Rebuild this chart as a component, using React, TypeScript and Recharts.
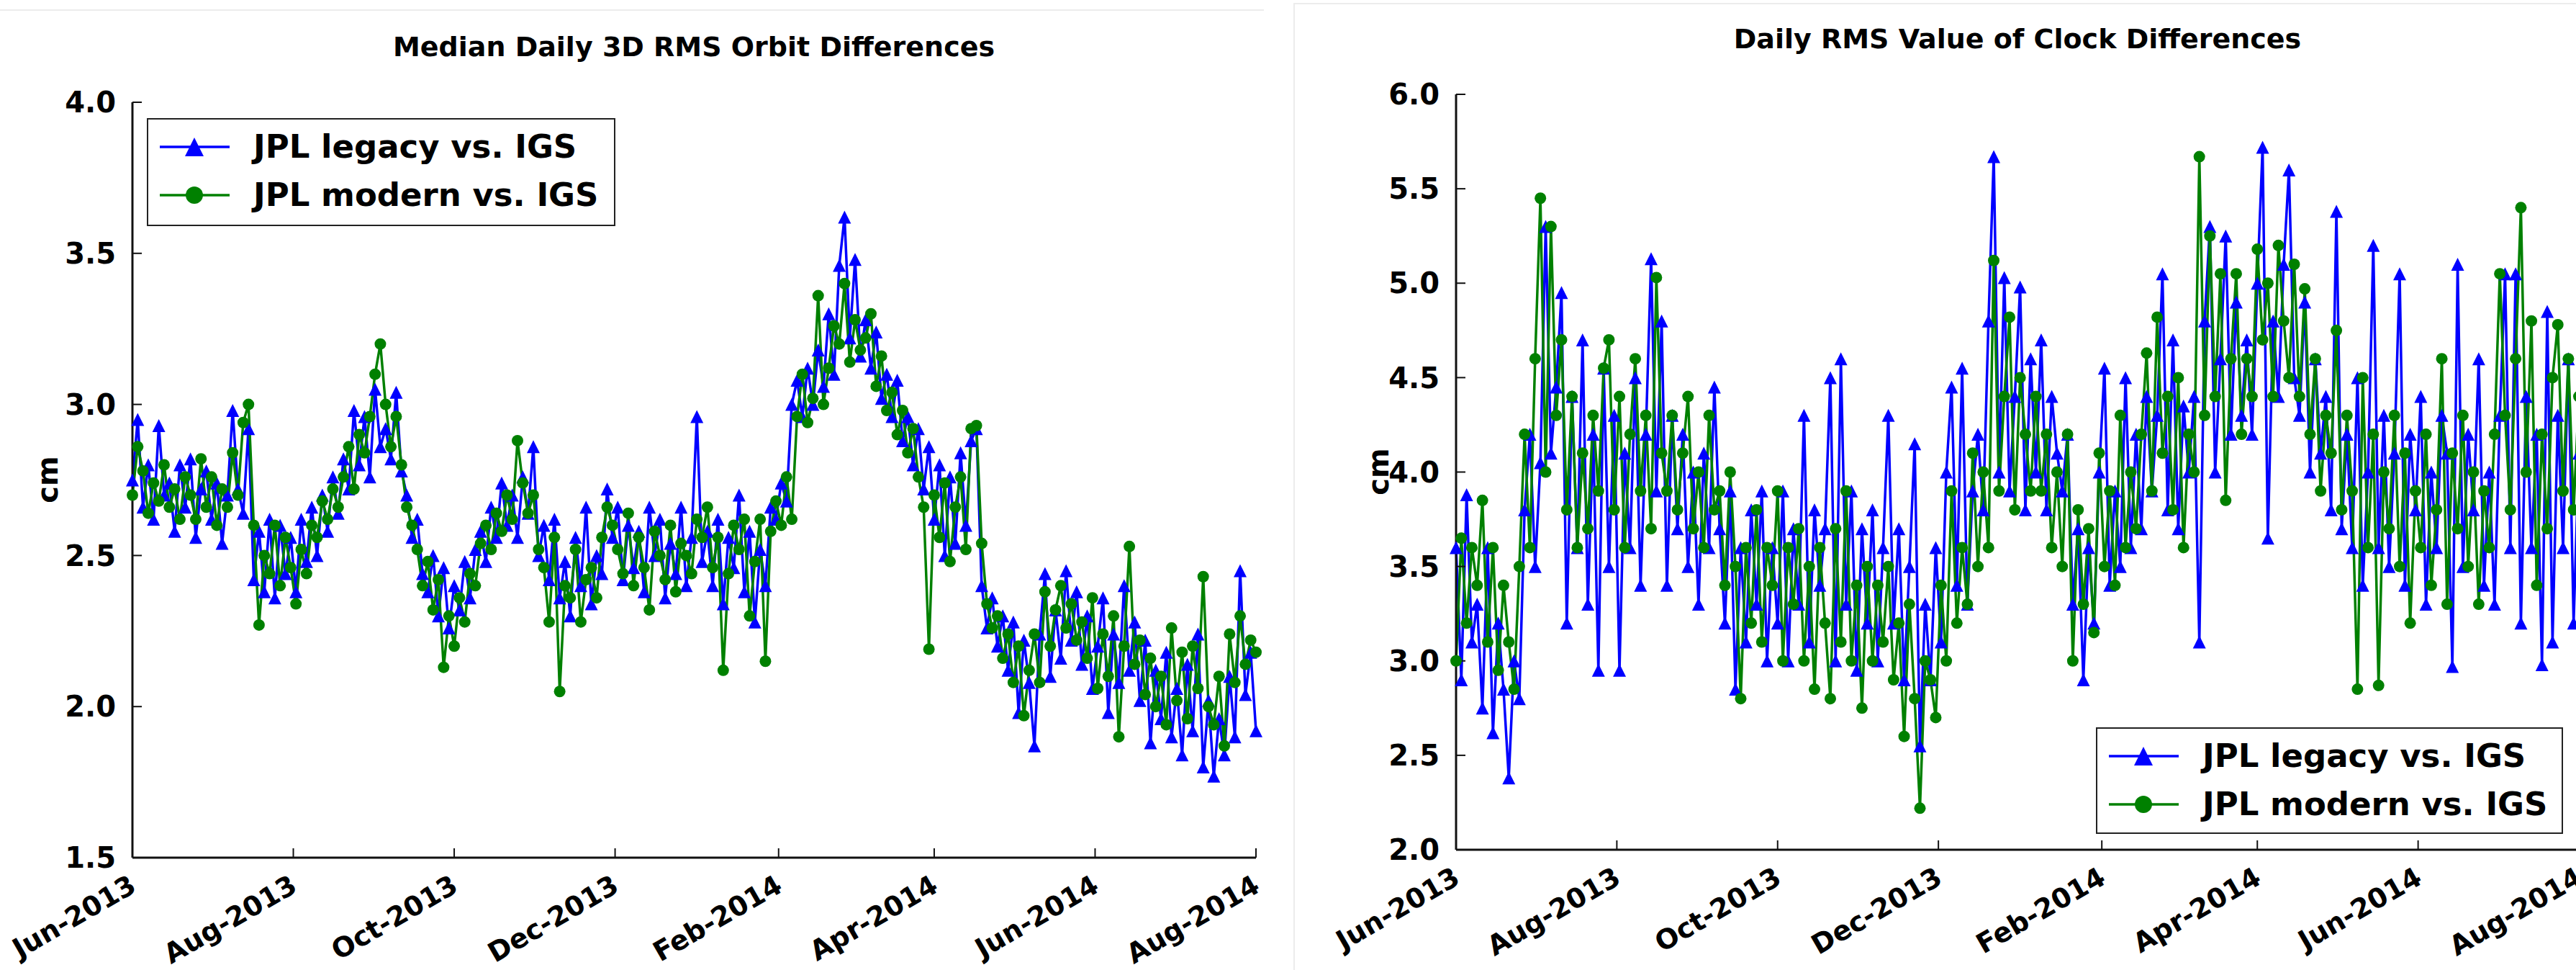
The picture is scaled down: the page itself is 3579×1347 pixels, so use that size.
import React from 'react'
import { LineChart, Line, XAxis, YAxis, Legend } from 'recharts'

const FONT = '"DejaVu Sans", Verdana, sans-serif'

// x axis: days since 2013-06-01, ticks on the first of every other month
const monthTicks = [0, 61, 122, 183, 245, 304, 365, 426]
const monthLabels = ['Jun-2013', 'Aug-2013', 'Oct-2013', 'Dec-2013', 'Feb-2014', 'Apr-2014', 'Jun-2014', 'Aug-2014']

const orbitTicks = [1.5, 2.0, 2.5, 3.0, 3.5, 4.0]
const clockTicks = [2.0, 2.5, 3.0, 3.5, 4.0, 4.5, 5.0, 5.5, 6.0]

// values, one every 2 days from 2013-06-01 (cm)
const orbitLegacy = [
  2.75, 2.95, 2.66, 2.80, 2.62, 2.93, 2.70, 2.74, 2.58, 2.80,
  2.66, 2.82, 2.56, 2.72, 2.78, 2.62, 2.74, 2.54, 2.70, 2.98,
  2.72, 2.64, 2.92, 2.42, 2.58, 2.38, 2.62, 2.36, 2.60, 2.44,
  2.56, 2.38, 2.62, 2.48, 2.66, 2.50, 2.70, 2.58, 2.76, 2.64,
  2.82, 2.72, 2.98, 2.80, 2.96, 2.76, 3.05, 2.86, 2.92, 2.82,
  3.04, 2.78, 2.70, 2.56, 2.62, 2.44, 2.38, 2.50, 2.30, 2.46,
  2.26, 2.40, 2.32, 2.48, 2.36, 2.52, 2.58, 2.48, 2.66, 2.56,
  2.74, 2.60, 2.70, 2.56, 2.76, 2.64, 2.86, 2.50, 2.60, 2.42,
  2.62, 2.36, 2.48, 2.30, 2.56, 2.40, 2.66, 2.34, 2.50, 2.44,
  2.72, 2.56, 2.66, 2.42, 2.60, 2.46, 2.58, 2.38, 2.66, 2.50,
  2.62, 2.36, 2.54, 2.44, 2.66, 2.40, 2.56, 2.96, 2.48, 2.58,
  2.40, 2.62, 2.34, 2.56, 2.46, 2.70, 2.38, 2.58, 2.28, 2.52,
  2.40, 2.66, 2.62, 2.74, 2.68, 3.00, 3.08, 2.96, 3.12, 3.00,
  3.18, 3.06, 3.30, 3.10, 3.46, 3.62, 3.22, 3.48, 3.16, 3.28,
  3.12, 3.24, 3.02, 3.10, 2.96, 3.08, 2.88, 2.96, 2.80, 2.92,
  2.72, 2.86, 2.62, 2.80, 2.50, 2.76, 2.54, 2.84, 2.60, 2.88,
  2.92, 2.40, 2.26, 2.36, 2.20, 2.30, 2.12, 2.28, 1.98, 2.22,
  2.08, 1.87, 2.24, 2.44, 2.10, 2.32, 2.16, 2.45, 2.22, 2.38,
  2.14, 2.30, 2.06, 2.20, 2.36, 1.98, 2.24, 2.08, 2.40, 2.12,
  2.28, 2.02, 2.22, 1.88, 2.12, 1.96, 2.18, 1.90, 2.06, 1.84,
  2.14, 1.92, 2.24, 1.80, 2.02, 1.77, 1.96, 1.84, 2.10, 1.90,
  2.45, 2.04, 2.18, 1.92,
]

const orbitModern = [
  2.70, 2.86, 2.78, 2.64, 2.74, 2.68, 2.80, 2.66, 2.72, 2.62,
  2.76, 2.70, 2.62, 2.82, 2.66, 2.76, 2.60, 2.72, 2.66, 2.84,
  2.70, 2.94, 3.00, 2.60, 2.27, 2.50, 2.44, 2.60, 2.40, 2.56,
  2.46, 2.34, 2.52, 2.44, 2.60, 2.56, 2.68, 2.62, 2.72, 2.66,
  2.76, 2.86, 2.72, 2.90, 2.84, 2.96, 3.10, 3.20, 3.00, 2.86,
  2.96, 2.80, 2.66, 2.60, 2.52, 2.40, 2.48, 2.32, 2.42, 2.13,
  2.30, 2.20, 2.36, 2.28, 2.44, 2.40, 2.54, 2.60, 2.52, 2.64,
  2.58, 2.70, 2.62, 2.88, 2.74, 2.64, 2.70, 2.52, 2.46, 2.28,
  2.56, 2.05, 2.40, 2.36, 2.52, 2.28, 2.42, 2.46, 2.36, 2.56,
  2.66, 2.60, 2.52, 2.44, 2.64, 2.40, 2.56, 2.46, 2.32, 2.58,
  2.50, 2.42, 2.60, 2.38, 2.54, 2.50, 2.44, 2.62, 2.56, 2.66,
  2.46, 2.56, 2.12, 2.44, 2.60, 2.52, 2.62, 2.30, 2.48, 2.62,
  2.15, 2.58, 2.68, 2.60, 2.76, 2.62, 2.96, 3.10, 2.94, 3.02,
  3.36, 3.00, 3.12, 3.26, 3.20, 3.40, 3.14, 3.28, 3.18, 3.22,
  3.30, 3.06, 3.16, 2.98, 3.04, 2.90, 2.98, 2.84, 2.92, 2.76,
  2.66, 2.19, 2.70, 2.56, 2.74, 2.48, 2.66, 2.76, 2.52, 2.92,
  2.93, 2.54, 2.34, 2.26, 2.30, 2.16, 2.24, 2.08, 2.20, 1.97,
  2.12, 2.24, 2.08, 2.38, 2.20, 2.32, 2.40, 2.26, 2.34, 2.22,
  2.28, 2.16, 2.36, 2.06, 2.24, 2.10, 2.30, 1.90, 2.20, 2.53,
  2.14, 2.22, 2.04, 2.16, 2.00, 2.10, 1.94, 2.26, 2.02, 2.18,
  1.96, 2.20, 2.06, 2.43, 2.00, 1.94, 2.10, 1.87, 2.24, 2.08,
  2.30, 2.14, 2.22, 2.18,
]

const clockLegacy = [
  3.60, 2.90, 3.88, 3.10, 3.30, 2.75, 3.60, 2.62, 3.20, 2.85,
  2.38, 3.00, 2.80, 3.80, 4.20, 3.50, 4.05, 5.30, 4.10, 4.45,
  4.95, 3.20, 4.40, 3.60, 4.70, 3.30, 4.20, 2.95, 4.55, 3.50,
  4.30, 2.95, 4.10, 3.60, 4.50, 3.40, 4.20, 5.13, 3.90, 4.80,
  3.40, 4.30, 3.70, 4.20, 3.50, 4.00, 3.30, 4.10, 3.60, 4.45,
  3.70, 3.20, 3.90, 2.85, 3.60, 3.10, 3.80, 3.30, 3.90, 3.00,
  3.60, 3.20, 3.90, 3.00, 3.70, 3.30, 4.30, 3.10, 3.80, 3.40,
  3.70, 4.50, 3.00, 4.60, 3.30, 3.90, 2.95, 3.70, 3.20, 3.80,
  3.00, 3.60, 4.30, 3.20, 3.70, 2.90, 3.50, 4.15, 2.55, 3.30,
  2.90, 3.60, 3.10, 4.00, 4.45, 3.40, 4.55, 3.30, 3.90, 4.20,
  3.80, 4.80, 5.67, 4.00, 5.03, 3.90, 4.40, 4.98, 3.80, 4.60,
  4.00, 4.70, 3.80, 4.40, 4.10, 3.90, 4.20, 3.30, 3.70, 2.90,
  3.60, 3.20, 4.00, 4.55, 3.40, 3.90, 3.50, 4.50, 3.60, 4.20,
  3.70, 4.40, 3.90, 4.30, 5.05, 3.80, 4.70, 3.70, 4.35, 4.00,
  4.40, 3.10, 4.80, 5.30, 4.00, 4.60, 5.25, 4.20, 4.90, 4.30,
  4.70, 4.20, 5.00, 5.72, 3.65, 4.80, 4.40, 5.10, 5.60, 4.50,
  4.30, 4.90, 4.00, 4.60, 4.10, 4.40, 3.80, 5.38, 3.70, 4.20,
  3.60, 4.50, 3.40, 4.00, 5.20, 3.60, 4.30, 3.50, 4.10, 5.05,
  3.40, 4.20, 3.80, 4.40, 3.30, 4.00, 3.60, 4.30, 4.10, 2.97,
  5.10, 3.50, 4.20, 3.80, 4.60, 3.40, 4.00, 3.30, 4.30, 5.05,
  3.60, 5.05, 3.20, 4.40, 3.60, 4.20, 2.98, 4.85, 3.10, 4.30,
  3.60, 4.60, 3.20, 4.10,
]

const clockModern = [
  3.00, 3.65, 3.20, 3.60, 3.40, 3.85, 3.10, 3.60, 2.95, 3.40,
  3.10, 2.85, 3.50, 4.20, 3.60, 4.60, 5.45, 4.00, 5.30, 4.30,
  4.70, 3.80, 4.40, 3.60, 4.10, 3.70, 4.30, 3.90, 4.55, 4.70,
  3.80, 4.40, 3.60, 4.20, 4.60, 3.90, 4.30, 3.70, 5.03, 4.10,
  3.90, 4.30, 3.80, 4.10, 4.40, 3.70, 4.00, 3.60, 4.30, 3.80,
  3.90, 3.40, 4.00, 3.50, 2.80, 3.60, 3.20, 3.80, 3.10, 3.60,
  3.40, 3.90, 3.00, 3.60, 3.30, 3.70, 3.00, 3.50, 2.85, 3.60,
  3.20, 2.80, 3.70, 3.10, 3.90, 3.00, 3.40, 2.75, 3.50, 3.00,
  3.40, 3.10, 3.50, 2.90, 3.20, 2.60, 3.30, 2.80, 2.22, 3.00,
  2.90, 2.70, 3.40, 3.00, 3.90, 3.20, 3.60, 3.30, 4.10, 3.50,
  4.00, 3.60, 5.12, 3.90, 4.40, 4.82, 3.80, 4.50, 4.20, 3.90,
  4.40, 3.90, 4.20, 3.60, 4.00, 3.50, 4.20, 3.00, 3.80, 3.30,
  3.70, 3.15, 4.10, 3.50, 3.90, 3.40, 4.30, 3.60, 4.00, 3.70,
  4.20, 4.63, 3.90, 4.82, 4.10, 4.40, 3.80, 4.50, 3.60, 4.20,
  4.00, 5.67, 4.30, 5.25, 4.40, 5.05, 3.85, 4.60, 5.05, 4.20,
  4.60, 4.40, 5.18, 4.70, 5.00, 4.40, 5.20, 4.80, 4.50, 5.10,
  4.40, 4.97, 4.20, 4.60, 3.90, 4.30, 4.10, 4.75, 3.80, 4.30,
  3.90, 2.85, 4.50, 3.60, 4.20, 2.87, 4.00, 3.70, 4.30, 3.50,
  4.10, 3.20, 3.90, 3.60, 4.20, 3.40, 3.80, 4.60, 3.30, 4.10,
  3.70, 4.30, 3.50, 4.00, 3.30, 3.90, 3.60, 4.20, 5.05, 4.30,
  3.80, 4.60, 5.40, 4.00, 4.80, 3.40, 4.20, 3.70, 4.50, 4.78,
  3.90, 4.60, 3.80, 4.40,
]

const sampleDays = orbitLegacy.map((_, i) => i * 2)

const orbitData = sampleDays.map((t, i) => ({ t, legacy: orbitLegacy[i], modern: orbitModern[i] }))
const clockData = sampleDays.map((t, i) => ({ t, legacy: clockLegacy[i], modern: clockModern[i] }))

const SERIES = [
  { key: 'legacy', name: 'JPL legacy vs. IGS', color: '#0000ff', shape: 'triangle' },
  { key: 'modern', name: 'JPL modern vs. IGS', color: '#008000', shape: 'circle' },
]

function Marker({ shape, color, cx, cy, r }: any) {
  if (shape === 'triangle') {
    return <path d={`M${cx},${cy - r}L${cx + r},${cy + r}L${cx - r},${cy + r}Z`} fill={color} />
  }
  return <circle cx={cx} cy={cy} r={r} fill={color} />
}

function makeDot(shape: string, color: string, r: number) {
  return (p: any) => (
    <g key={`${shape}-${p.index}`}>
      <Marker shape={shape} color={color} cx={p.cx} cy={p.cy} r={r} />
    </g>
  )
}

function MonthTick({ x, y, payload }: any) {
  const label = monthLabels[monthTicks.indexOf(payload.value)]
  const ax = x - 6
  const ay = y
  return (
    <text
      x={ax}
      y={ay}
      dy="0.72em"
      textAnchor="end"
      transform={`rotate(-30 ${ax} ${ay})`}
      fontFamily={FONT}
      fontWeight="bold"
      fontSize={38}
      fill="#000"
    >
      {label}
    </text>
  )
}

function LegendBox({ w, h }: { w: number; h: number }) {
  return (
    <div
      style={{
        width: w,
        height: h,
        boxSizing: 'border-box',
        border: '2px solid #222',
        background: '#fff',
        position: 'relative',
      }}
    >
      {SERIES.map((s, i) => (
        <div
          key={s.key}
          style={{ position: 'absolute', left: 0, top: 4 + i * 67, height: 67, display: 'flex', alignItems: 'center' }}
        >
          <svg width={130} height={60} style={{ display: 'block' }}>
            <line x1={16} x2={113} y1={30} y2={30} stroke={s.color} strokeWidth={3.5} />
            <Marker shape={s.shape} color={s.color} cx={64} cy={30} r={s.shape === 'triangle' ? 13 : 12} />
          </svg>
          <span style={{ fontFamily: FONT, fontWeight: 'bold', fontSize: 45, marginLeft: 16, color: '#000', whiteSpace: 'nowrap' }}>
            {s.name}
          </span>
        </div>
      ))}
    </div>
  )
}

const axisLine = { stroke: '#111', strokeWidth: 3 }
const tickLine = { stroke: '#111', strokeWidth: 2 }

function Panel({ data, left, width, top, bottomAxis, yDomain, yTicks, legend }: any) {
  return (
    <div style={{ position: 'absolute', left, top: 0 }}>
      <LineChart width={width} height={1347} data={data} margin={{ top, right: 15, bottom: 0, left: 64 }}>
        <XAxis
          xAxisId="b"
          dataKey="t"
          type="number"
          domain={[0, 426]}
          ticks={monthTicks}
          interval={0}
          height={bottomAxis}
          tickSize={-13}
          tickMargin={35}
          axisLine={axisLine}
          tickLine={tickLine}
          tick={<MonthTick />}
        />
        <XAxis
          xAxisId="t"
          orientation="top"
          dataKey="t"
          type="number"
          domain={[0, 426]}
          ticks={monthTicks}
          interval={0}
          height={0}
          tickSize={-13}
          axisLine={axisLine}
          tickLine={tickLine}
          tick={false}
        />
        <YAxis
          yAxisId="l"
          type="number"
          domain={yDomain}
          ticks={yTicks}
          interval={0}
          width={120}
          tickSize={-13}
          tickMargin={36}
          axisLine={axisLine}
          tickLine={tickLine}
          tickFormatter={(v: number) => v.toFixed(1)}
          tick={{ fontSize: 40, fontWeight: 'bold', fill: '#000', fontFamily: FONT }}
        />
        <YAxis
          yAxisId="r"
          orientation="right"
          type="number"
          domain={yDomain}
          ticks={yTicks}
          interval={0}
          width={0}
          tickSize={-13}
          axisLine={axisLine}
          tickLine={tickLine}
          tick={false}
        />
        {SERIES.map((s) => (
          <Line
            key={s.key}
            xAxisId="b"
            yAxisId="l"
            type="linear"
            dataKey={s.key}
            name={s.name}
            stroke={s.color}
            strokeWidth={3.5}
            dot={makeDot(s.shape, s.color, s.shape === 'triangle' ? 9 : 8)}
            activeDot={false}
            isAnimationActive={false}
          />
        ))}
        <Legend
          layout="horizontal"
          verticalAlign="middle"
          align="center"
          wrapperStyle={{ left: legend.x, top: legend.y, width: legend.w, height: legend.h }}
          content={() => <LegendBox w={legend.w} h={legend.h} />}
        />
      </LineChart>
    </div>
  )
}

export default function App() {
  return (
    <div style={{ position: 'fixed', left: 0, top: 0, width: 3579, height: 1347, overflow: 'hidden', background: '#fff' }}>
      <div style={{ position: 'absolute', left: 0, top: 13, width: 1756, borderTop: '2px solid #ececec' }} />
      <div style={{ position: 'absolute', left: 1797, top: 4, right: 0, borderTop: '2px solid #ececec' }} />
      <div style={{ position: 'absolute', left: 1797, top: 4, bottom: 0, borderLeft: '2px solid #ececec' }} />
      <Panel
        data={orbitData}
        left={0}
        width={1760}
        top={142}
        bottomAxis={156}
        yDomain={[1.5, 4.0]}
        yTicks={orbitTicks}
        legend={{ x: 204, y: 164, w: 651, h: 150 }}
      />
      <Panel
        data={clockData}
        left={1839}
        width={1759}
        top={131}
        bottomAxis={167}
        yDomain={[2.0, 6.0]}
        yTicks={clockTicks}
        legend={{ x: 1073, y: 1010, w: 649, h: 148 }}
      />
      <svg width={3579} height={1347} style={{ position: 'absolute', left: 0, top: 0, pointerEvents: 'none' }}>
        <g fontFamily={FONT} fontWeight="bold" fill="#000">
          <text x={964} y={78} fontSize={38} textAnchor="middle">Median Daily 3D RMS Orbit Differences</text>
          <text x={2803} y={67} fontSize={38} textAnchor="middle">Daily RMS Value of Clock Differences</text>
          <text x={80} y={666} fontSize={40} textAnchor="middle" transform="rotate(-90 80 666)">cm</text>
          <text x={1929} y={655} fontSize={40} textAnchor="middle" transform="rotate(-90 1929 655)">cm</text>
        </g>
      </svg>
    </div>
  )
}
